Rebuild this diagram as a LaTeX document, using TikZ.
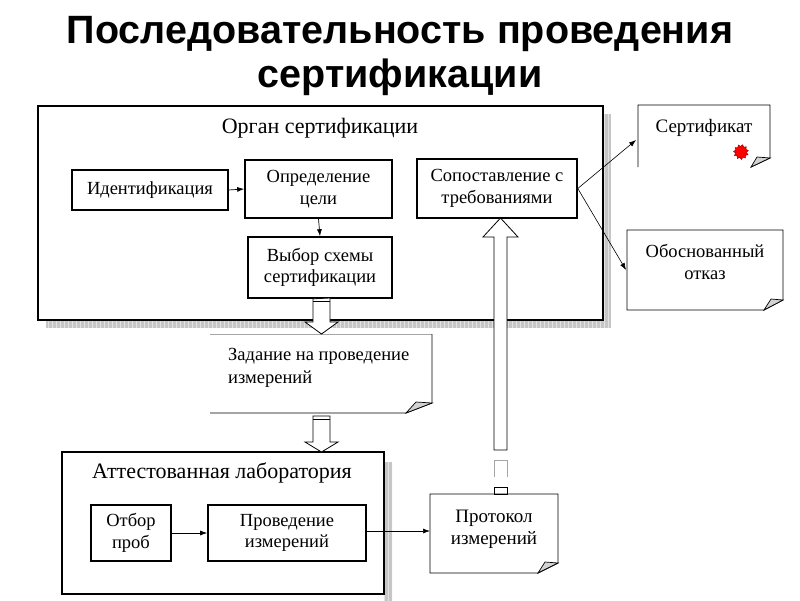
\documentclass[tikz,border=0pt]{standalone}
\usepackage{fontspec}
\setmainfont{Liberation Serif}
\newfontfamily\titlefont{Liberation Sans}
\usetikzlibrary{shapes.geometric,arrows.meta}
\tikzset{
  box/.style={draw, line width=1.6pt, fill=white, inner sep=1pt, align=center,
    font=\fontsize{18.5}{21.5}\selectfont},
  thinbox/.style={box, line width=1.1pt},
  lbl/.style={inner sep=0pt, align=center},
  conn/.style={-{Latex[length=7pt,width=5pt]}, line width=0.7pt},
  hollow/.style={draw, line width=0.8pt, fill=white},
  shadow/.style={fill=gray!45},
  shgrid/.style={draw=gray!22, line width=0.4pt},
  note/.style={draw, line width=0.9pt, fill=white},
  fold/.style={draw, line width=0.7pt, fill=gray!35},
}
\begin{document}
\begin{tikzpicture}[x=1pt,y=-1pt]
\useasboundingbox (0,0) rectangle (800,600);
% title
\node[lbl, anchor=base, font=\titlefont\bfseries\fontsize{39.5}{44}\selectfont] (t1) at (400,43) {Последовательность проведения};
\node[lbl, anchor=base, font=\titlefont\bfseries\fontsize{39.5}{44}\selectfont] (t2) at (400,87) {сертификации};

% organ shadow
\fill[shadow] (603,114) rectangle (611,328);
\fill[shadow] (46,320) rectangle (611,328);
\begin{scope}
\clip (603,114) rectangle (611,328) (46,320) rectangle (603,328);
\draw[shgrid, step=4] (44,112) grid (612,330);
\end{scope}
\node[draw, line width=1.8pt, fill=white, minimum width=565, minimum height=214, inner sep=0pt] (organ) at (320.5,213) {};
\node[lbl, font=\fontsize{22}{25}\selectfont] (organlbl) at (320,128) {Орган сертификации};

\node[thinbox, minimum width=156, minimum height=40] (ident) at (150,190) {Идентификация};
\node[box, minimum width=147, minimum height=58] (goal) at (318.5,189) {Определение\\цели};
\node[box, minimum width=144, minimum height=61] (scheme) at (320,267.5) {Выбор схемы\\сертификации};
\node[box, minimum width=160, minimum height=59] (comp) at (497,188.5) {Сопоставление с\\требованиями};
\draw[conn] (ident.east) -- (goal.west);
\draw[conn] (goal.south) -- (scheme.north);

% lab shadow
\fill[shadow] (384,462) rectangle (392,602);
\begin{scope}
\clip (384,462) rectangle (392,602);
\draw[shgrid, step=4] (380,460) grid (396,604);
\end{scope}
\node[draw, line width=1.8pt, fill=white, minimum width=322, minimum height=142, inner sep=0pt] (lab) at (223,523) {};
\node[lbl, font=\fontsize{22}{25}\selectfont] (lablbl) at (222,473) {Аттестованная лаборатория};
\node[box, minimum width=80, minimum height=56] (sample) at (131,533) {Отбор\\проб};
\node[box, minimum width=158, minimum height=56] (meas) at (287,533) {Проведение\\измерений};
\draw[conn] (sample.east) -- (meas.west);

% task note (no left edge)
\draw[line width=0.6pt, draw=gray!70] (210,334) -- (432,334);
\draw[line width=0.9pt] (432,334) -- (432,403) -- (406,413) -- (210,413);
\draw[fold] (432,403) -- (406,413) -- (416,402) -- cycle;
\node[lbl, align=left, anchor=north west, font=\fontsize{18.5}{23}\selectfont] (task) at (228,348) {Задание на проведение\\измерений};

% protocol note
\draw[note] (430,494) -- (558,494) -- (558,563) -- (538,573) -- (430,573) -- cycle;
\draw[fold] (558,563) -- (538,573) -- (545,562) -- cycle;
\node[lbl, font=\fontsize{19}{22}\selectfont] (proto) at (494,529) {Протокол\\измерений};
\coordinate (protoW) at (430,531);
\draw[conn] (meas.east |- protoW) -- (protoW);

% certificate note
\draw[line width=0.9pt] (638,167) -- (638,105) -- (770,105) -- (770,158) -- (751,167);
\draw[fold] (770,158) -- (751,167) -- (757,157) -- cycle;
\node[lbl, font=\fontsize{19}{22}\selectfont] (cert) at (704,128) {Сертификат};
\node[star, star points=11, star point ratio=1.35, fill=red, draw=red!50!black, line width=0.4pt, minimum size=15, inner sep=0pt, rotate=20] (seal) at (741,152) {};
% refusal note
\draw[note] (627,230) -- (783,230) -- (783,300) -- (764,310) -- (627,310) -- cycle;
\draw[fold] (783,300) -- (764,310) -- (771,299) -- cycle;
\node[lbl, font=\fontsize{18.5}{21.5}\selectfont] (refuse) at (705,262) {Обоснованный\\отказ};
\coordinate (certW) at (636,140);
\coordinate (refW) at (626,270);
\draw[conn, line width=0.6pt] (comp.east) -- (certW);
\draw[conn, line width=0.6pt] (comp.east) -- (refW);

% hollow arrow scheme -> task
\draw[hollow] (scheme.south -| 313,0) -- (313,322) -- (305,322) -- (321.5,334) -- (338,322) -- (330,322) -- (330,298) -- cycle;
\draw[line width=0.8pt] (313,301.5) -- (330,301.5);
% hollow arrow task -> lab
\draw[hollow] (313,416) -- (313,442) -- (305,442) -- (321.5,452) -- (338,442) -- (330,442) -- (330,416) -- cycle;
\draw[line width=0.8pt] (313,419.5) -- (330,419.5);
% hollow arrow protocol -> comparison (up)
\draw[hollow] (494,450) -- (494,237) -- (483,237) -- (500.5,218) -- (518,237) -- (507,237) -- (507,450) -- cycle;
\draw[line width=0.7pt, draw=gray!70] (494,460) -- (494,477) (507,460) -- (507,477) (494,460) -- (507,460);
\draw[line width=0.8pt] (494,487) rectangle (507,494);
\end{tikzpicture}
\end{document}
